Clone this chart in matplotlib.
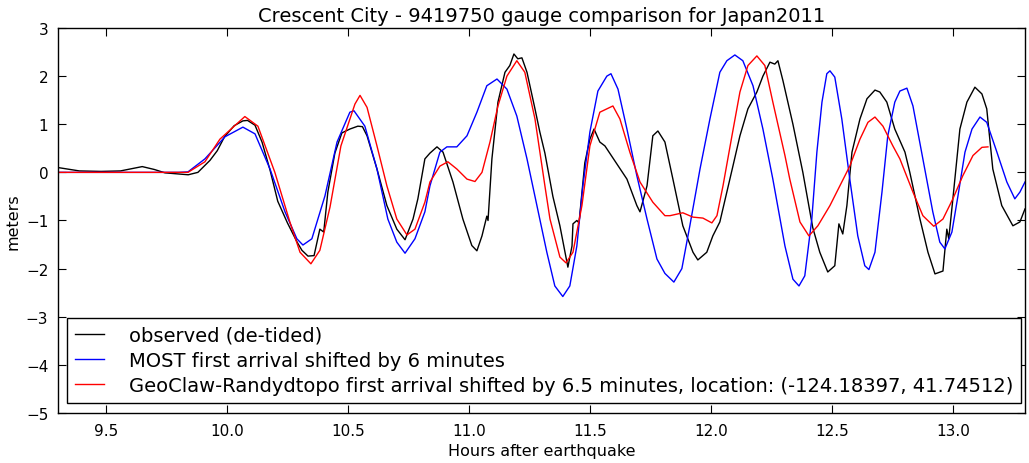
import matplotlib
matplotlib.use("Agg")
import matplotlib.pyplot as plt

plt.rcParams['font.family'] = ['DejaVu Sans']

obs_t = [9.302, 9.39, 9.48, 9.56, 9.65, 9.70, 9.744, 9.84, 9.88, 9.93, 9.96, 9.99, 10.03, 10.066, 10.085,
         10.116, 10.145, 10.178, 10.21, 10.25, 10.29, 10.31, 10.335, 10.36, 10.384, 10.40, 10.417, 10.446,
         10.475, 10.508, 10.541, 10.56, 10.579, 10.620, 10.661, 10.702, 10.736, 10.769, 10.789, 10.818,
         10.839, 10.868, 10.893, 10.934, 10.975, 11.012, 11.033, 11.054, 11.074, 11.079, 11.095, 11.120,
         11.149, 11.169, 11.186, 11.202, 11.219, 11.240, 11.273, 11.293, 11.314, 11.347, 11.376, 11.409,
         11.426, 11.430, 11.446, 11.455, 11.479, 11.500, 11.517, 11.541, 11.562, 11.603, 11.653, 11.694,
         11.707, 11.736, 11.760, 11.781, 11.81, 11.843, 11.884, 11.926, 11.946, 11.983, 12.008, 12.037,
         12.066, 12.091, 12.120, 12.153, 12.190, 12.215, 12.244, 12.264, 12.277, 12.298, 12.339, 12.380,
         12.421, 12.45, 12.483, 12.512, 12.529, 12.545, 12.562, 12.583, 12.616, 12.645, 12.678, 12.698,
         12.727, 12.760, 12.802, 12.822, 12.864, 12.897, 12.926, 12.959, 12.975, 12.983, 13.000, 13.029,
         13.058, 13.091, 13.120, 13.140, 13.165, 13.202, 13.248, 13.277, 13.298]
obs_v = [0.10, 0.03, 0.02, 0.03, 0.12, 0.06, -0.01, -0.05, 0.00, 0.25, 0.45, 0.74, 0.97, 1.07, 1.08,
         0.98, 0.63, 0.05, -0.60, -1.05, -1.45, -1.62, -1.74, -1.73, -1.18, -1.24, -0.41, 0.40,
         0.82, 0.90, 0.96, 0.95, 0.76, 0.07, -0.69, -1.18, -1.40, -0.97, -0.55, 0.28,
         0.40, 0.53, 0.42, -0.20, -0.97, -1.52, -1.63, -1.32, -0.91, -1.00, 0.28, 1.46,
         2.08, 2.22, 2.46, 2.36, 2.38, 2.08, 1.32, 0.84, 0.40, -0.50, -1.11, -1.97,
         -1.53, -1.07, -1.00, -1.05, 0.20, 0.69, 0.90, 0.63, 0.55, 0.24, -0.14, -0.69,
         -0.82, -0.28, 0.76, 0.86, 0.63, -0.14, -1.11, -1.66, -1.82, -1.66, -1.32, -1.03,
         -0.41, 0.13, 0.76, 1.32, 1.67, 2.00, 2.29, 2.25, 2.32, 1.90, 1.00, 0.00,
         -1.15, -1.66, -2.07, -1.94, -1.07, -1.28, -0.69, 0.42, 1.11, 1.53, 1.71, 1.67,
         1.46, 0.90, 0.42, 0.00, -0.97, -1.66, -2.11, -2.05, -1.18, -1.38, -0.55, 0.90,
         1.46, 1.77, 1.63, 1.32, 0.07, -0.69, -1.11, -1.03, -0.76]

most_t = [9.302, 9.80, 9.839, 9.909, 9.992, 10.066, 10.116, 10.178, 10.240, 10.289, 10.314, 10.351, 10.405,
          10.455, 10.508, 10.525, 10.570, 10.620, 10.665, 10.702, 10.736, 10.777, 10.818, 10.839, 10.880,
          10.909, 10.950, 10.992, 11.033, 11.074, 11.116, 11.157, 11.198, 11.240, 11.281, 11.322, 11.355,
          11.388, 11.417, 11.446, 11.471, 11.500, 11.533, 11.570, 11.587, 11.616, 11.653, 11.694, 11.736,
          11.777, 11.810, 11.847, 11.880, 11.913, 11.955, 11.996, 12.037, 12.066, 12.099, 12.132, 12.174,
          12.215, 12.256, 12.306, 12.339, 12.364, 12.388, 12.417, 12.438, 12.459, 12.479, 12.492, 12.512,
          12.541, 12.574, 12.607, 12.636, 12.653, 12.678, 12.707, 12.731, 12.760, 12.781, 12.810, 12.835,
          12.876, 12.917, 12.946, 12.967, 12.996, 13.021, 13.050, 13.079, 13.112, 13.140, 13.182, 13.223,
          13.256, 13.277, 13.298]
most_v = [0.0, 0.0, 0.01, 0.28, 0.74, 0.94, 0.80, 0.07, -0.82, -1.38, -1.51, -1.38, -0.49,
          0.63, 1.25, 1.28, 0.96, 0.07, -0.97, -1.45, -1.68, -1.38, -0.82, -0.28, 0.42,
          0.53, 0.53, 0.76, 1.25, 1.80, 1.94, 1.73, 1.17, 0.28, -0.69, -1.66, -2.36,
          -2.58, -2.36, -1.53, -0.28, 0.84, 1.69, 2.00, 2.05, 1.73, 0.90, -0.07, -0.97,
          -1.80, -2.10, -2.28, -2.00, -1.11, 0.07, 1.11, 2.08, 2.32, 2.44, 2.32, 1.80,
          0.90, -0.14, -1.53, -2.22, -2.36, -2.15, -0.97, 0.42, 1.46, 2.05, 2.11, 1.98,
          1.11, -0.14, -1.32, -1.94, -2.02, -1.66, -0.41, 0.76, 1.46, 1.69, 1.75, 1.38,
          0.28, -0.82, -1.45, -1.59, -1.24, -0.49, 0.42, 0.90, 1.15, 1.04, 0.42, -0.20,
          -0.55, -0.41, -0.20]

geo_t = [9.302, 9.82, 9.839, 9.909, 9.971, 10.074, 10.128, 10.198, 10.260, 10.302, 10.347, 10.384, 10.426,
         10.471, 10.529, 10.550, 10.579, 10.620, 10.661, 10.702, 10.744, 10.777, 10.818, 10.839, 10.880,
         10.913, 10.950, 10.992, 11.025, 11.054, 11.087, 11.120, 11.157, 11.198, 11.231, 11.273, 11.314,
         11.335, 11.376, 11.401, 11.430, 11.467, 11.500, 11.541, 11.595, 11.624, 11.665, 11.707, 11.760,
         11.810, 11.831, 11.884, 11.926, 11.967, 12.004, 12.025, 12.050, 12.087, 12.120, 12.153, 12.190,
         12.223, 12.256, 12.306, 12.326, 12.368, 12.405, 12.442, 12.492, 12.533, 12.574, 12.616, 12.649,
         12.678, 12.711, 12.752, 12.781, 12.835, 12.876, 12.921, 12.959, 13.000, 13.041, 13.083, 13.120,
         13.145]
geo_v = [0.0, 0.0, 0.0, 0.22, 0.69, 1.16, 0.96, 0.0, -1.03, -1.66, -1.90, -1.62, -0.72,
         0.55, 1.42, 1.60, 1.35, 0.55, -0.28, -0.97, -1.30, -1.18, -0.62, -0.20, 0.13,
         0.22, 0.07, -0.14, -0.19, 0.0, 0.63, 1.38, 2.00, 2.32, 2.08, 1.11, -0.28,
         -0.97, -1.76, -1.88, -1.66, -0.69, 0.55, 1.25, 1.38, 1.11, 0.42, -0.20, -0.62,
         -0.90, -0.90, -0.84, -0.93, -0.95, -1.05, -0.90, -0.28, 0.76, 1.67, 2.22, 2.42,
         2.22, 1.46, 0.35, -0.14, -1.03, -1.32, -1.11, -0.69, -0.28, 0.13, 0.69, 1.04,
         1.15, 0.96, 0.55, 0.28, -0.41, -0.90, -1.12, -0.97, -0.55, -0.07, 0.35, 0.52,
         0.53]

labels = ['observed (de-tided)',
          'MOST first arrival shifted by 6 minutes',
          'GeoClaw-Randydtopo first arrival shifted by 6.5 minutes, location: (-124.18397, 41.74512)']
title = 'Crescent City - 9419750 gauge comparison for Japan2011'
xticks = [9.5, 10.0, 10.5, 11.0, 11.5, 12.0, 12.5, 13.0]
yticks = [-5, -4, -3, -2, -1, 0, 1, 2, 3]

fig = plt.figure(figsize=(10.29, 4.64), dpi=100)
ax = fig.add_axes([0.0564, 0.1078, 0.9397, 0.8297])
ax.plot(obs_t, obs_v, color='black', lw=1.0, label=labels[0])
ax.plot(most_t, most_v, color='blue', lw=1.0, label=labels[1])
ax.plot(geo_t, geo_v, color='red', lw=1.0, label=labels[2])

ax.set_xlim(9.302, 13.298)
ax.set_ylim(-5, 3)
ax.set_xticks(xticks)
ax.set_xticklabels([f'{t:.1f}' for t in xticks])
ax.set_yticks(yticks)
ax.set_yticklabels(['\u2212%d' % -y if y < 0 else '%d' % y for y in yticks])
ax.tick_params(direction='in', top=True, right=True, length=6, width=0.8, labelsize=11, pad=7)
for s in ax.spines.values():
    s.set_linewidth(1.0)
ax.set_title(title, fontsize=14, pad=5)
ax.set_xlabel('Hours after earthquake', fontsize=11.5, labelpad=4)
ax.set_ylabel('meters', fontsize=11.5, labelpad=4)

leg = ax.legend(loc='lower left', bbox_to_anchor=(0.0093, 0.026), borderaxespad=0, fontsize=14,
                fancybox=False, framealpha=1, edgecolor='black', handlelength=1.5, handletextpad=1.3,
                labelspacing=0.33, borderpad=0.4)
leg.get_frame().set_linewidth(1.0)

fig.savefig('out.png', dpi=100)
